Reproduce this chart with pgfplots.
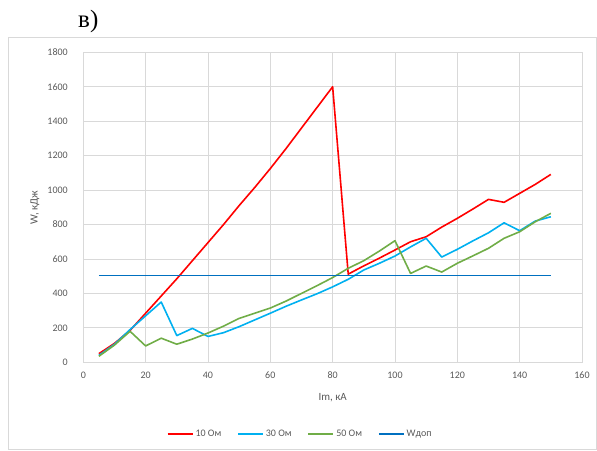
\documentclass[border=0pt]{standalone}
\usepackage{fontspec}
\setmainfont{Carlito}
\newfontfamily\titlefont{Liberation Serif}
\usepackage{pgfplots}
\pgfplotsset{compat=1.18}
\usepackage{pgfplotstable}

\definecolor{seriesred}{RGB}{255,0,0}
\definecolor{seriescyan}{RGB}{0,176,240}
\definecolor{seriesgreen}{RGB}{112,173,71}
\definecolor{labelgray}{RGB}{89,89,89}

% Energy W (kJ) versus peak current Im (kA)
\pgfplotstableread{
Im   R10   R30   R50
5    50    40    35
10   110   105   100
15   185   190   180
20   285   270   95
25   385   350   140
30   485   155   105
35   590   197   135
40   695   150   170
45   800   172   210
50   910   207   255
55   1015  246   285
60   1125  285   315
65   1240  325   355
70   1360  362   400
75   1480  398   445
80   1600  438   492
85   512   482   546
90   560   536   590
95   605   575   646
100  652   617   706
105  700   670   516
110  729   720   559
115  785   611   524
120  836   656   575
125  890   705   618
130  946   752   662
135  929   810   720
140  981   764   758
145  1033  820   816
150  1091  845   865
}\datatable

% permissible energy level
\pgfplotstableread{
Im   W
5    505
150  505
}\limittable

\begin{document}
\begin{tikzpicture}
\useasboundingbox (0pt,0pt) rectangle (597pt,450pt);
% outer chart frame
\draw[draw=black!15, line width=0.8pt] (8.3pt,0.5pt) rectangle (596.5pt,412.7pt);
% panel letter
\node[anchor=base west, inner sep=0pt, font=\titlefont\fontsize{25}{28}\selectfont] at (78pt,422pt) {в)};

\begin{axis}[
  at={(83.3pt,87.7pt)}, anchor=south west,
  scale only axis, width=498.7pt, height=310pt,
  xmin=0, xmax=160, ymin=0, ymax=1800,
  xtick={0,20,...,160}, ytick={0,200,...,1800},
  grid=major,
  grid style={draw=black!15, line width=0.8pt},
  axis line style={draw=black!15, line width=0.8pt},
  tick style={draw=none},
  tick label style={font=\fontsize{10}{12}\selectfont, text=labelgray},
  /pgf/number format/assume math mode=true,
  /pgf/number format/set thousands separator={},
  yticklabel style={xshift=-12pt},
  xticklabel style={yshift=-6pt},
  label style={font=\fontsize{11}{13}\selectfont, text=labelgray},
  xlabel={Im, кА},
  ylabel={W, кДж},
  xlabel style={at={(axis description cs:0.5,-0.115)}, anchor=center},
  ylabel style={at={(axis description cs:-0.097,0.5)}, anchor=center},
  legend columns=4,
  legend style={at={(axis description cs:0.435,-0.232)}, anchor=center,
    draw=none, fill=none, font=\fontsize{10}{12}\selectfont, text=labelgray,
    /tikz/every even column/.append style={column sep=14pt}},
  legend image code/.code={\draw[#1] (0pt,0pt) -- (25pt,0pt);},
]
\addplot[draw=seriesred, line width=1.6pt, line join=round, mark=none] table[x=Im, y=R10] {\datatable};
\addlegendentry{10 Ом}
\addplot[draw=seriescyan, line width=1.6pt, line join=round, mark=none] table[x=Im, y=R30] {\datatable};
\addlegendentry{30 Ом}
\addplot[draw=seriesgreen, line width=1.6pt, line join=round, mark=none] table[x=Im, y=R50] {\datatable};
\addlegendentry{50 Ом}
\addplot[draw={rgb,255:red,0;green,112;blue,192}, line width=1.6pt, mark=none] table[x=Im, y=W] {\limittable};
\addlegendentry{Wдоп}
\end{axis}
\end{tikzpicture}
\end{document}
